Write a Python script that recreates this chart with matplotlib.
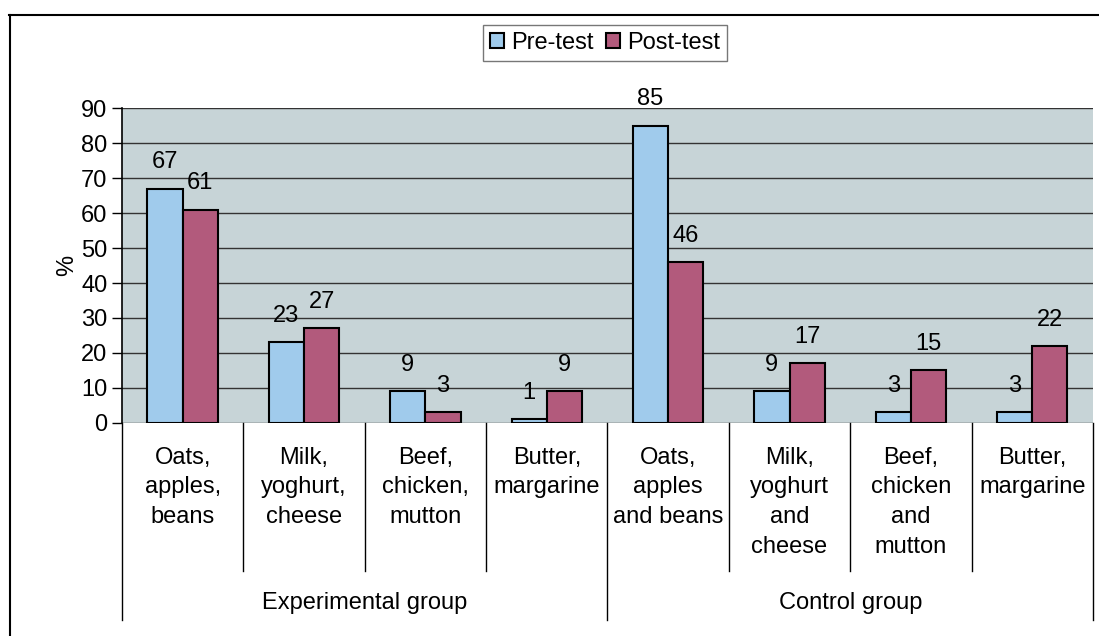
import numpy as np
import matplotlib.pyplot as plt
from matplotlib.lines import Line2D
from matplotlib.transforms import blended_transform_factory

plt.rcParams['font.family'] = ['Liberation Sans', 'DejaVu Sans']

categories = ["Oats,\napples,\nbeans", "Milk,\nyoghurt,\ncheese",
              "Beef,\nchicken,\nmutton", "Butter,\nmargarine",
              "Oats,\napples\nand beans", "Milk,\nyoghurt\nand\ncheese",
              "Beef,\nchicken\nand\nmutton", "Butter,\nmargarine"]
groups = ["Experimental group", "Control group"]
pre_test = [67, 23, 9, 1, 85, 9, 3, 3]
post_test = [61, 27, 3, 9, 46, 17, 15, 22]
yticks = np.arange(0, 100, 10)

blue = '#a0cbec'
mauve = '#b25a7c'
bg = '#c7d4d7'
fs = 17

fig = plt.figure(figsize=(10.99, 6.36), dpi=100)
ax = fig.add_axes([0.111, 0.335, 0.8835, 0.495])
ax.set_facecolor(bg)

x = np.arange(len(categories))
w = 0.29
b1 = ax.bar(x - w / 2, pre_test, w, color=blue, edgecolor='black',
            linewidth=1.5, label='Pre-test', zorder=3)
b2 = ax.bar(x + w / 2, post_test, w, color=mauve, edgecolor='black',
            linewidth=1.5, label='Post-test', zorder=3)

# value labels above the bars
for bars, vals in ((b1, pre_test), (b2, post_test)):
    for bar, v in zip(bars, vals):
        ax.annotate(str(v), (bar.get_x() + bar.get_width() / 2, v),
                    xytext=(0, 19), textcoords='offset points',
                    ha='center', va='center', fontsize=fs, zorder=4)

ax.set_xlim(-0.5, len(categories) - 0.5)
ax.set_ylim(0, 90)
ax.set_yticks(yticks)
ax.tick_params(axis='y', labelsize=fs, length=7, width=1, direction='out')
ax.set_xticks([])
ax.yaxis.grid(True, color='#333333', linewidth=1, zorder=1)
ax.set_axisbelow(True)
for s in ('top', 'right', 'bottom'):
    ax.spines[s].set_visible(False)
ax.spines['left'].set_linewidth(1.2)
ax.set_ylabel('%', fontsize=fs, labelpad=2)

# category labels and divider lines below the axis
tr = blended_transform_factory(ax.transData, ax.transAxes)
for i, lab in enumerate(categories):
    ax.text(i, -0.075, lab, transform=tr, ha='center', va='top',
            fontsize=fs, linespacing=1.45)
for k in range(len(categories) + 1):
    xd = k - 0.5
    low = -0.625 if k in (0, 4, 8) else -0.47
    ax.add_line(Line2D([xd, xd], [0, low], transform=tr, color='black',
                       linewidth=1, clip_on=False))
for j, g in enumerate(groups):
    ax.text(j * 4 + 1.5, -0.571, g, transform=tr, ha='center', va='center',
            fontsize=fs)

# legend
fig.legend(handles=[b1, b2], loc='center', bbox_to_anchor=(0.5505, 0.932),
           ncol=2, fontsize=fs, frameon=True, fancybox=False,
           edgecolor='#555555', handlelength=0.6, handleheight=0.6,
           handletextpad=0.3, columnspacing=0.5, borderpad=0.3)

# outer frame (top and left edges)
fig.add_artist(Line2D([0.008, 1.0], [0.976, 0.976], color='black',
                      linewidth=1.5))
fig.add_artist(Line2D([0.009, 0.009], [0.0, 0.976], color='black',
                      linewidth=1.5))

fig.savefig('out.png', dpi=100)
